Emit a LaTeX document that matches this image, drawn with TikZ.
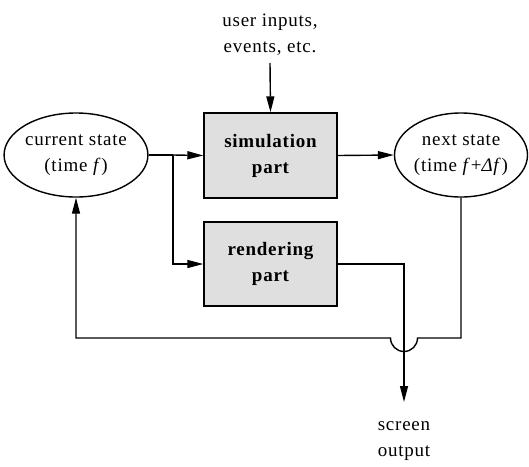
\documentclass[tikz,border=0pt]{standalone}
\usepackage{fontspec}
\setmainfont{Liberation Serif}[LetterSpace=4]
\usetikzlibrary{arrows.meta,shapes.geometric}
\begin{document}
\begin{tikzpicture}[x=1pt,y=-1pt,line width=1.4pt,
  every node/.style={font=\fontsize{19}{26}\selectfont, align=center},
  state/.style={draw, ellipse, inner sep=0pt, minimum width=134pt, minimum height=84pt},
  part/.style={draw, fill=gray!25, inner sep=0pt, minimum width=133pt,
    font=\fontsize{19}{26}\selectfont\bfseries},
  caption/.style={inner sep=0pt},
  flow/.style={-{Triangle[length=16pt,width=8pt]}}]
\useasboundingbox (0,0) rectangle (529,466);

% states and processing blocks
\node[state] (cur) at (76,155) {current state\\(time \textit{f})};
\node[state, minimum width=126pt] (next) at (461,155) {next state\\(time \textit{f}+\textit{Δf})};
\node[part, minimum height=85pt] (sim) at (270.5,155.5) {simulation\\part};
\node[part, minimum height=84pt] (rend) at (270.5,264) {rendering\\part};

% external input and output
\node[caption] (in) at (270,35) {user inputs,\\events, etc.};
\node[caption] (out) at (404,441) {screen\\output};
\coordinate (inStart) at (270,63);
\coordinate (outTip) at (404,402);

% forward flow
\coordinate (split) at (173,155);
\draw (cur.east) -- (split);
\draw[flow] (split) -- (sim.west);
\draw[flow] (split) |- (rend.west);
\draw[flow] (sim.east) -- (next.west);
\draw[flow] (inStart) -- (sim.north);
\draw[flow] (rend.east) -| (outTip);

% feedback loop, hopping over the output line
\coordinate (hopR) at (417.5,338);
\draw[flow] (next.south) |- (hopR)
  arc[start angle=0, end angle=180, radius=13.5]
  -- (cur.south |- hopR) -- (cur.south);
\end{tikzpicture}
\end{document}
